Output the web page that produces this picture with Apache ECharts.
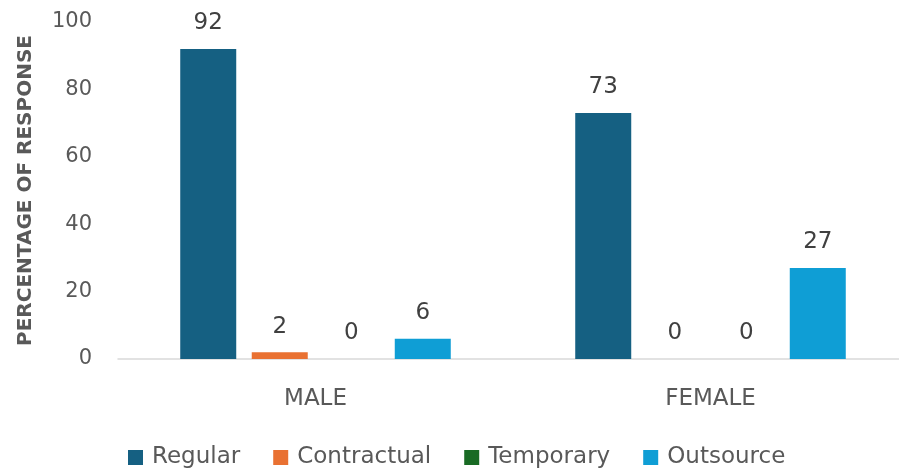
<!DOCTYPE html>
<html>
<head>
<meta charset="utf-8">
<script src="https://cdn.jsdelivr.net/npm/echarts@6/dist/echarts.min.js"></script>
<style>
  html, body { margin: 0; padding: 0; background: #ffffff; overflow: hidden; }
  #chart { width: 912px; height: 471px; }
</style>
</head>
<body>
<div id="chart"></div>
<script>
var genders = ['MALE', 'FEMALE'];
var seriesNames = ['Regular', 'Contractual', 'Temporary', 'Outsource'];
var regular = [92, 73];
var contractual = [2, 0];
var temporary = [0, 0];
var outsource = [6, 27];
var colors = ['#156082', '#E97132', '#196B24', '#0F9ED5'];

var chartDom = document.getElementById('chart');
var myChart = echarts.init(chartDom);

function makeSeries(name, data, color) {
    return {
        name: name,
        type: 'bar',
        data: data,
        barWidth: 56,
        barGap: '27.7%',
        itemStyle: { color: color },
        label: {
            show: true,
            position: 'top',
            distance: 14,
            color: '#404040',
            fontSize: 23
        }
    };
}

var option = {
    textStyle: { fontFamily: 'DejaVu Sans' },
    grid: {
        left: 118,
        right: 4,
        top: 22,
        bottom: 112,
        containLabel: false
    },
    legend: {
        bottom: -3,
        left: 123,
        itemWidth: 15,
        itemHeight: 15,
        itemGap: 33,
        icon: 'rect',
        textStyle: { color: '#595959', fontSize: 23, padding: [0, 0, 0, 4] },
        data: seriesNames
    },
    xAxis: {
        type: 'category',
        data: genders,
        axisLine: { lineStyle: { color: '#d9d9d9', width: 1.5 } },
        axisTick: { show: false },
        axisLabel: { color: '#595959', fontSize: 23, margin: 29 }
    },
    yAxis: {
        type: 'value',
        min: 0,
        max: 100,
        interval: 20,
        name: 'PERCENTAGE OF RESPONSE',
        nameLocation: 'middle',
        nameGap: 82,
        nameTextStyle: { color: '#595959', fontSize: 20, fontWeight: 'bold' },
        axisLine: { show: false },
        axisTick: { show: false },
        splitLine: { show: false },
        axisLabel: { color: '#595959', fontSize: 21, margin: 26 }
    },
    series: [
        makeSeries(seriesNames[0], regular, colors[0]),
        makeSeries(seriesNames[1], contractual, colors[1]),
        makeSeries(seriesNames[2], temporary, colors[2]),
        makeSeries(seriesNames[3], outsource, colors[3])
    ]
};

myChart.setOption(option);
</script>
</body>
</html>
